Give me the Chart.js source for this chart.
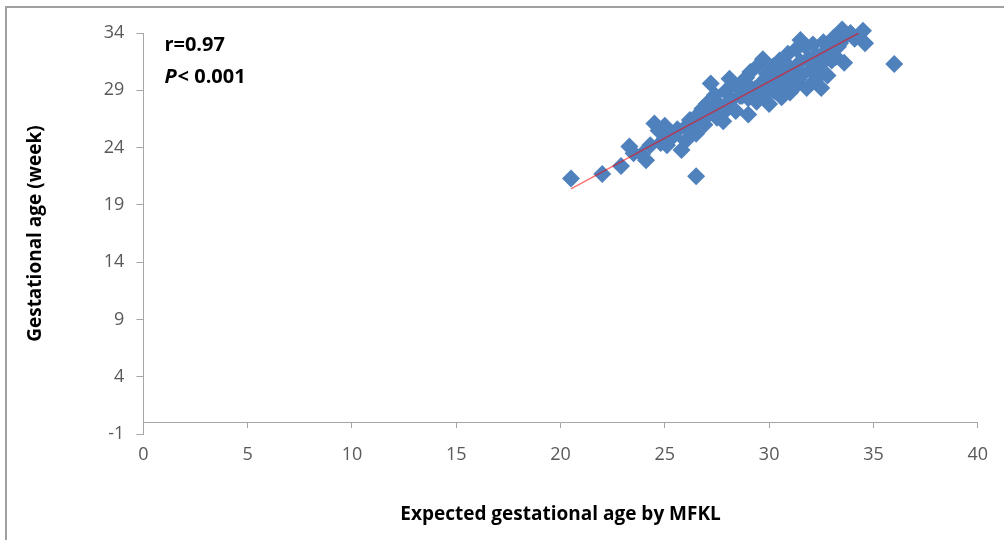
<!DOCTYPE html>
<html>
<head>
<meta charset="utf-8">
<script src="https://cdn.jsdelivr.net/npm/chart.js@4"></script>
<style>
  html, body { margin: 0; padding: 0; background: #fff; }
  #wrap { position: relative; width: 1004px; height: 540px; }
  #frame { position: absolute; left: 5px; top: 6px; width: 1010px; height: 540px;
           border-top: 2px solid #a0a0a0; border-left: 2px solid #a0a0a0; pointer-events: none; }
  canvas { position: absolute; left: 0; top: 0; }
</style>
</head>
<body>
<div id="wrap">
  <canvas id="c" width="1004" height="540"></canvas>
  <div id="frame"></div>
</div>
<script>
// ---- data ----
const xValues = [
  20.5, 22.0, 22.9, 23.3, 23.5, 23.9, 24.1, 24.5, 24.7, 24.8,
  25.0, 25.1, 25.4, 25.8, 25.6, 26.0, 26.2, 26.5, 26.5, 26.6,
  26.9, 27.0, 27.2, 27.3, 27.4, 27.5, 27.7, 27.8, 27.9, 28.0,
  28.1, 28.2, 28.4, 28.5, 28.6, 28.8, 29.0, 29.0, 29.1, 29.2,
  29.4, 29.5, 29.6, 29.7, 29.8, 29.9, 30.0, 30.1, 30.2, 30.3,
  30.4, 30.5, 30.6, 30.7, 30.8, 30.9, 31.0, 31.0, 31.2, 31.3,
  31.4, 31.5, 31.5, 31.6, 31.7, 31.8, 31.9, 32.0, 32.1, 32.2,
  32.3, 32.4, 32.5, 32.5, 32.6, 32.8, 32.9, 33.0, 33.1, 33.3,
  33.5, 33.6, 33.7, 33.9, 34.1, 34.5, 34.6, 36.0, 26.8, 28.3,
  25.0, 25.5, 26.3, 27.1, 28.7, 29.3, 30.5, 31.1, 31.9, 32.7,
  33.4, 30.2, 31.3, 32.2, 33.2, 28.9, 24.3, 26.0, 27.6, 29.8
];
const yValues = [
  21.3, 21.7, 22.4, 24.1, 23.5, 23.4, 22.9, 26.1, 25.5, 24.4,
  25.9, 24.2, 25.0, 23.8, 25.6, 24.6, 26.4, 21.5, 25.2, 26.9,
  26.0, 27.8, 29.6, 27.0, 28.6, 26.6, 27.6, 26.3, 28.9, 27.4,
  30.0, 28.2, 27.2, 29.3, 28.5, 29.8, 26.9, 28.3, 30.6, 29.0,
  28.0, 31.2, 29.6, 31.7, 28.6, 30.4, 27.8, 29.3, 31.1, 28.9,
  30.0, 31.6, 28.4, 30.6, 29.5, 32.2, 28.8, 31.0, 30.2, 32.6,
  29.6, 33.4, 31.5, 30.4, 32.9, 29.2, 31.8, 30.8, 33.0, 29.9,
  32.0, 30.6, 29.2, 31.3, 33.2, 30.3, 32.4, 31.6, 33.6, 32.8,
  34.3, 31.4, 33.8, 34.0, 33.5, 34.2, 33.1, 31.3, 27.4, 29.6,
  24.8, 25.3, 26.1, 26.9, 28.5, 29.1, 30.2, 30.8, 31.6, 32.4,
  33.1, 29.0, 30.0, 31.2, 31.9, 30.1, 24.2, 25.8, 27.4, 29.5
];
const trendX = [20.5, 34.3];
const trendY = [20.4, 34.0];
const yTickValues = [-1, 4, 9, 14, 19, 24, 29, 34];
const xTickValues = [0, 5, 10, 15, 20, 25, 30, 35, 40];
const statLines = ['r=0.97', '< 0.001'];

const points = xValues.map((x, i) => ({ x: x, y: yValues[i] }));
const trend = trendX.map((x, i) => ({ x: x, y: trendY[i] }));

const statsPlugin = {
  id: 'stats',
  afterDraw(chart) {
    const { ctx, chartArea } = chart;
    ctx.save();
    ctx.fillStyle = '#000';
    ctx.textBaseline = 'middle';
    ctx.textAlign = 'left';
    const x0 = chartArea.left + 21;
    ctx.font = 'bold 20px "Open Sans", sans-serif';
    ctx.fillText(statLines[0], x0, chartArea.top + 12);
    ctx.font = 'italic bold 20px "Open Sans", sans-serif';
    ctx.fillText('P', x0, chartArea.top + 44);
    const w = ctx.measureText('P').width;
    ctx.font = 'bold 20px "Open Sans", sans-serif';
    ctx.fillText(statLines[1], x0 + w + 1, chartArea.top + 44);
    ctx.restore();
  }
};

const tickFont = { family: '"Open Sans", sans-serif', size: 18 };

new Chart(document.getElementById('c'), {
  type: 'scatter',
  data: {
    datasets: [
      {
        label: 'trend',
        type: 'line',
        data: trend,
        borderColor: 'rgba(255,0,0,0.55)',
        borderWidth: 1.5,
        pointRadius: 0,
        fill: false,
        order: 0
      },
      {
        label: 'points',
        data: points,
        pointStyle: 'rectRot',
        pointRadius: 9,
        pointHoverRadius: 9,
        backgroundColor: '#4F81BD',
        borderColor: '#4F81BD',
        borderWidth: 0,
        clip: false,
        order: 1
      }
    ]
  },
  options: {
    responsive: false,
    animation: false,
    events: [],
    layout: { padding: { left: 24, right: 26, top: 33, bottom: 8 } },
    plugins: {
      legend: { display: false },
      tooltip: { enabled: false },
      title: {
        display: true,
        position: 'bottom',
        fullSize: false,
        text: 'Expected gestational age by MFKL',
        color: '#000',
        font: { family: '"Open Sans", sans-serif', size: 19, weight: 'bold' },
        padding: { top: 69, bottom: 6 }
      }
    },
    scales: {
      x: {
        type: 'linear',
        position: { y: 0 },
        min: 0,
        max: 40,
        afterBuildTicks(scale) { scale.ticks = xTickValues.map(v => ({ value: v })); },
        grid: { drawOnChartArea: false, drawTicks: true, tickLength: 5, color: '#a6a6a6' },
        border: { display: true, color: '#a6a6a6', width: 1 },
        ticks: { color: '#595959', font: tickFont, padding: 16, maxRotation: 0 }
      },
      y: {
        type: 'linear',
        min: -1,
        max: 34,
        afterBuildTicks(scale) { scale.ticks = yTickValues.map(v => ({ value: v })); },
        grid: { drawOnChartArea: false, drawTicks: true, tickLength: 7, color: '#a6a6a6' },
        border: { display: true, color: '#a6a6a6', width: 1 },
        ticks: { color: '#595959', font: tickFont, padding: 12 },
        title: {
          display: true,
          text: 'Gestational age (week)',
          color: '#000',
          font: { family: '"Open Sans", sans-serif', size: 19, weight: 'bold' },
          padding: { top: 0, bottom: 45 }
        }
      }
    }
  },
  plugins: [statsPlugin]
});
</script>
</body>
</html>
